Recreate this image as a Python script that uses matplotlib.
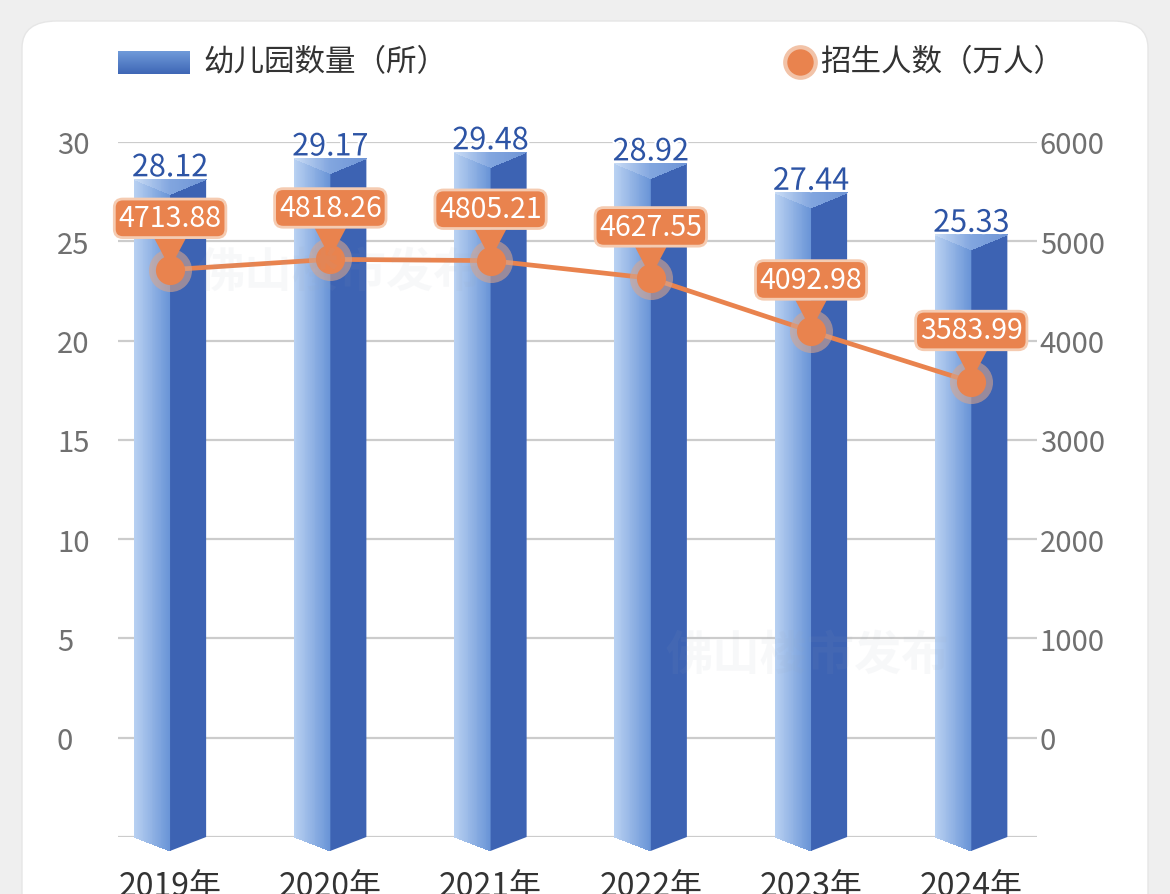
import numpy as np
import matplotlib
matplotlib.use("Agg")
import matplotlib.pyplot as plt
from matplotlib.patches import Polygon, FancyBboxPatch
from matplotlib.collections import PolyCollection
from matplotlib.colors import LinearSegmentedColormap
import matplotlib.patheffects as pe

plt.rcParams['font.family'] = ['Noto Sans CJK SC', 'DejaVu Sans']

years = ["2019年", "2020年", "2021年", "2022年", "2023年", "2024年"]
kindergartens = [28.12, 29.17, 29.48, 28.92, 27.44, 25.33]
enrollment = [4713.88, 4818.26, 4805.21, 4627.55, 4092.98, 3583.99]
left_ticks = [-5, 0, 5, 10, 15, 20, 25, 30]
left_labels = ["", "0", "5", "10", "15", "20", "25", "30"]
right_ticks = [-1000, 0, 1000, 2000, 3000, 4000, 5000, 6000]
right_labels = ["", "0", "1000", "2000", "3000", "4000", "5000", "6000"]

BLUE_DARK = "#3d63b3"
ORANGE = "#e9834e"
GRAY_TXT = "#707070"

fig = plt.figure(figsize=(11.7, 8.95), dpi=100)
fig.patch.set_facecolor("#efefef")
card = FancyBboxPatch((22 / 1170, -0.1), 1126 / 1170, 1 - 22 / 895 + 0.1,
                      boxstyle="round,pad=0,rounding_size=0.03",
                      transform=fig.transFigure, fc="white", ec="#e6e6e6", lw=1,
                      zorder=-10)
fig.patches.append(card)

ax = fig.add_axes([118 / 1170, 1 - 838 / 895, (1037 - 118) / 1170, (838 - 143) / 895])
ax.set_facecolor("none")
ax2 = ax.twinx()

x = np.arange(len(years))
h = 0.225
base = -5
tip = 0.7
dv = 0.75
grad = LinearSegmentedColormap.from_list("g", ["#b9d1f2", "#6a95d7"])
topgrad = LinearSegmentedColormap.from_list("t", ["#c9dcf5", "#82a6df", "#6f95d6"])
nstrip = 40
eps = h / nstrip * 0.6

for i, v in zip(x, kindergartens):
    c = float(i)
    # left face as thin strips -> horizontal gradient
    xs = np.linspace(c - h, c, nstrip + 1)
    polys, cols = [], []
    for k in range(nstrip):
        xa, xb = xs[k], min(xs[k + 1] + eps, c)
        ta = v - dv * (xa - (c - h)) / h
        tb = v - dv * (xb - (c - h)) / h
        ba = base - tip * (xa - (c - h)) / h
        bb = base - tip * (xb - (c - h)) / h
        polys.append([(xa, ta), (xb, tb), (xb, bb), (xa, ba)])
        cols.append(grad(k / (nstrip - 1)))
    ax.add_collection(PolyCollection(polys, facecolors=cols, edgecolors="none",
                                     antialiased=False, zorder=2, clip_on=False))
    ax.add_patch(Polygon([(c, v - dv), (c + h, v), (c + h, base), (c, base - tip)],
                         closed=True, fc=BLUE_DARK, ec="none", zorder=2, clip_on=False))
    # top face
    xt = np.linspace(c - h, c + h, 2 * nstrip + 1)
    polys, cols = [], []
    for k in range(2 * nstrip):
        xa, xb = xt[k], min(xt[k + 1] + eps, c + h)
        ta = v - dv * (1 - abs(xa - c) / h)
        tb = v - dv * (1 - abs(xb - c) / h)
        polys.append([(xa, v), (xb, v), (xb, tb), (xa, ta)])
        cols.append(topgrad(k / (2 * nstrip - 1)))
    ax.add_collection(PolyCollection(polys, facecolors=cols, edgecolors="none",
                                     antialiased=False, zorder=3, clip_on=False))
    ax.text(c, v - 0.2, f"{v:.2f}", ha="center", va="bottom", fontsize=22,
            color="#2d54a5", zorder=5,
            path_effects=[pe.withStroke(linewidth=3, foreground="white")])

ax.set_xlim(-0.325, 5.41)
ax.set_ylim(-5, 30)
ax.set_yticks(left_ticks, left_labels)
ax.yaxis.grid(True, color="#cccccc", lw=1.6)
ax.set_axisbelow(True)
ax.set_xticks(x, years)
for s in ax.spines.values():
    s.set_visible(False)
for s in ax2.spines.values():
    s.set_visible(False)
ax.tick_params(axis="y", length=0, pad=44, labelsize=21, labelcolor=GRAY_TXT)
for lab in ax.get_yticklabels():
    lab.set_horizontalalignment("left")
ax.tick_params(axis="x", length=0, pad=24, labelsize=23, labelcolor="#333333")

ax2.set_ylim(-1000, 6000)
ax2.set_yticks(right_ticks, right_labels)
ax2.tick_params(axis="y", length=0, pad=2, labelsize=21, labelcolor=GRAY_TXT)

ax2.plot(x, enrollment, color=ORANGE, lw=3.4, zorder=3, solid_capstyle="round")
ax2.plot(x, enrollment, "o", ms=31, color="#d6a58e", alpha=0.6, mec="none", zorder=3)
ax2.plot(x, enrollment, "o", ms=21, color=ORANGE, mec="none", zorder=4)

for i, v in zip(x, enrollment):
    ax2.annotate(f"{v:.2f}", xy=(i, v), xytext=(0, 37), textcoords="offset points",
                 ha="center", va="center", fontsize=20.5, color="white", zorder=6,
                 bbox=dict(boxstyle="round,pad=0.15,rounding_size=0.3", fc=ORANGE,
                           ec="#f5cbb1", lw=2),
                 arrowprops=dict(arrowstyle="wedge,tail_width=1.1,shrink_factor=0.5",
                                 fc=ORANGE, ec="none", shrinkA=0, shrinkB=1))

# watermarks
fig.text(0.29, 0.695, "佛山楼市发布", fontsize=34, color="#9aa6b8", alpha=0.07,
         fontweight="bold", style="italic", ha="center", va="center", zorder=5)
fig.text(0.69, 0.267, "佛山楼市发布", fontsize=34, color="#9aa6b8", alpha=0.07,
         fontweight="bold", style="italic", ha="center", va="center", zorder=5)

# legend
lax = fig.add_axes([0, 0, 1, 1], facecolor="none")
lax.axis("off")
lg = LinearSegmentedColormap.from_list("l", ["#6f9ad9", "#3f67b6"])
lax.imshow(np.linspace(0, 1, 32).reshape(-1, 1), cmap=lg, aspect="auto",
           extent=[118, 190, 75, 52], interpolation="bilinear")
lax.set_xlim(0, 1170)
lax.set_ylim(895, 0)
lax.text(203, 63, "幼儿园数量（所）", fontsize=22, color="#333333", va="center", ha="left")
lax.plot([800], [63], "o", ms=25, color="#f2c3a8", mec="none")
lax.plot([800], [63], "o", ms=19, color=ORANGE, mec="none")
lax.text(820, 63, "招生人数（万人）", fontsize=22, color="#333333", va="center", ha="left")

fig.savefig("out.png", dpi=100, facecolor=fig.get_facecolor())
